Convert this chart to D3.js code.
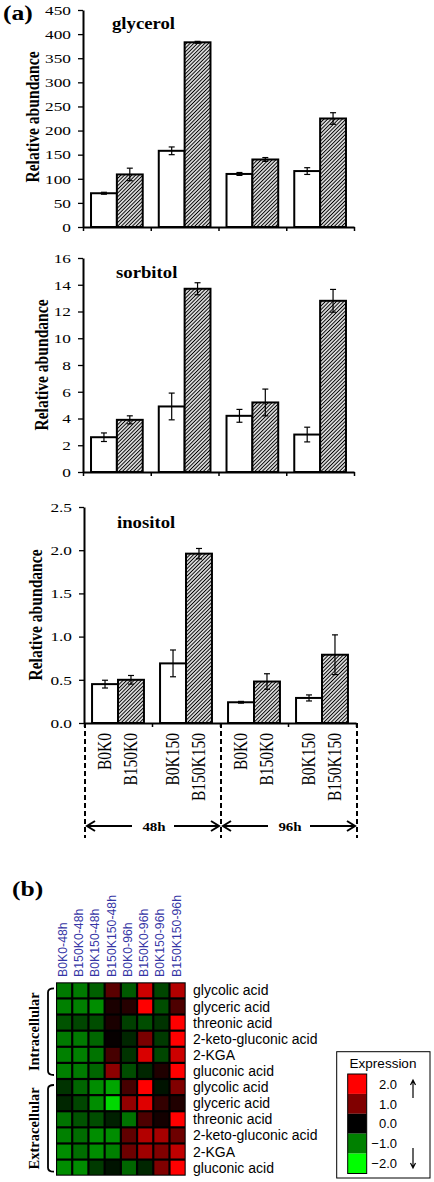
<!DOCTYPE html>
<html><head><meta charset="utf-8">
<script src="https://cdn.jsdelivr.net/npm/d3@7"></script>
<style>body{margin:0;background:#fff}</style>
</head><body>
<script>
// ---------------- DATA ----------------
const groups = ["48h K0", "48h K150", "96h K0", "96h K150"];
const series = ["B0", "B150"];
const categoryLabels = ["B0K0", "B150K0", "B0K150", "B150K150", "B0K0", "B150K0", "B0K150", "B150K150"];
const timeLabels = ["48h", "96h"];

const glycerolB0 = [70, 158, 110, 116];
const glycerolB0Err = [2, 8, 3, 7];
const glycerolB150 = [109, 383, 140, 225];
const glycerolB150Err = [13, 2, 4, 12];
const glycerolTicks = [0, 50, 100, 150, 200, 250, 300, 350, 400, 450];

const sorbitolB0 = [2.6, 4.9, 4.2, 2.8];
const sorbitolB0Err = [0.32, 1.0, 0.48, 0.55];
const sorbitolB150 = [3.9, 13.7, 5.2, 12.8];
const sorbitolB150Err = [0.3, 0.45, 1.0, 0.85];
const sorbitolTicks = [0, 2, 4, 6, 8, 10, 12, 14, 16];

const inositolB0 = [0.45, 0.69, 0.24, 0.29];
const inositolB0Err = [0.045, 0.155, 0.01, 0.035];
const inositolB150 = [0.50, 1.96, 0.48, 0.79];
const inositolB150Err = [0.05, 0.06, 0.09, 0.23];
const inositolTicks = [0, 0.5, 1.0, 1.5, 2.0, 2.5];

const heatmapColumns = ["B0K0-48h", "B150K0-48h", "B0K150-48h", "B150K150-48h", "B0K0-96h", "B150K0-96h", "B0K150-96h", "B150K150-96h"];
const heatmapRows = ["glycolic acid", "glyceric acid", "threonic acid", "2-keto-gluconic acid", "2-KGA", "gluconic acid",
                     "glycolic acid", "glyceric acid", "threonic acid", "2-keto-gluconic acid", "2-KGA", "gluconic acid"];
const heatmapGroups = ["Intracellular", "Extracellular"];
const heatmapValues = [
  [-0.95, -0.95, -0.75, 0.7, -0.7, 1.6, -0.55, 1.4],
  [-1.0, -1.0, -1.1, 0.2, 0.3, 2.0, -0.6, 0.6],
  [-0.65, -0.55, -0.6, 0.2, -0.5, -0.6, -0.4, 2.0],
  [-0.95, -0.95, -0.8, 0.05, -0.3, 0.95, -0.45, 2.0],
  [-1.0, -1.0, -0.9, 0.55, -0.4, 1.7, -0.55, 1.6],
  [-1.0, -0.95, -0.8, 1.1, -0.6, -0.3, 0.25, 2.0],
  [-0.4, -0.8, -1.1, -1.3, 0.55, 2.0, -0.15, 1.0],
  [-0.3, -0.55, -1.1, -1.7, 1.15, 1.75, 0.4, 0.25],
  [-0.9, -0.65, -0.6, -0.25, -0.9, 0.6, 0.15, 2.0],
  [-1.0, -0.85, -1.1, -1.1, 0.75, 1.4, 1.3, 0.85],
  [-1.1, -0.85, -1.1, -1.0, 0.85, 1.25, 1.0, 1.5],
  [-1.1, -1.1, -0.45, -0.15, -0.8, -0.3, 1.0, 2.0]
];
const legendValues = [2.0, 1.0, 0.0, -1.0, -2.0];
const legendColors = ["#00ff00", "#008000", "#000000", "#800000", "#ff0000"];

// ---------------- DRAW ----------------
const SERIF = "'Liberation Serif','Times New Roman',serif";
const SANS = "'Liberation Sans',Arial,sans-serif";

const svg = d3.select("body").append("svg").attr("width", 434).attr("height", 1182);
const defs = svg.append("defs");
const pat = defs.append("pattern").attr("id", "hatch").attr("patternUnits", "userSpaceOnUse")
  .attr("width", 2.6).attr("height", 2.6).attr("patternTransform", "rotate(45)");
pat.append("rect").attr("width", 2.6).attr("height", 2.6).attr("fill", "#fff");
pat.append("line").attr("x1", 1.3).attr("x2", 1.3).attr("y1", -1).attr("y2", 4).attr("stroke", "#000").attr("stroke-width", 1.15);

function stext(parent, x, y, str, o) {
  o = o || {};
  const g = parent.append("g").attr("transform", `translate(${x},${y}) scale(${o.sx || 1},1)` + (o.rot ? " rotate(-90)" : ""));
  return g.append("text").text(str)
    .attr("font-family", o.family || SERIF)
    .attr("font-size", o.size || 14)
    .attr("font-weight", o.bold ? "bold" : "normal")
    .attr("text-anchor", o.anchor || "start")
    .attr("dy", o.dy || 0)
    .attr("fill", o.fill || "#000");
}

stext(svg, 3, 19.5, "(a)", {size: 21, bold: true, sx: 1.22});

const panels = [
  {title: "glycerol", b0: glycerolB0, b0e: glycerolB0Err, b150: glycerolB150, b150e: glycerolB150Err, ticks: glycerolTicks, fmt: d3.format("d"),
   left: 83, right: 354, top: 10, bottom: 227, titleX: 112, titleY: 29, labX: 33, labY: 117},
  {title: "sorbitol", b0: sorbitolB0, b0e: sorbitolB0Err, b150: sorbitolB150, b150e: sorbitolB150Err, ticks: sorbitolTicks, fmt: d3.format("d"),
   left: 83, right: 354, top: 258, bottom: 472, titleX: 116, titleY: 278, labX: 42, labY: 365},
  {title: "inositol", b0: inositolB0, b0e: inositolB0Err, b150: inositolB150, b150e: inositolB150Err, ticks: inositolTicks, fmt: d3.format(".1f"),
   left: 84, right: 356, top: 507, bottom: 723, titleX: 117, titleY: 528, labX: 36, labY: 615}
];

panels.forEach((p, pi) => {
  const g = svg.append("g");
  const y = d3.scaleLinear().domain([p.ticks[0], p.ticks[p.ticks.length - 1]]).range([p.bottom, p.top]);
  const xb = d3.scaleBand().domain(groups).range([p.left, p.right]);
  const xs = d3.scaleBand().domain(series).range([0, xb.bandwidth()]).paddingOuter(0.31).paddingInner(0);
  const xt = d3.scaleLinear().domain([0, groups.length]).range([p.left, p.right]);

  const data = [];
  groups.forEach((gr, i) => {
    data.push({g: gr, s: "B0", v: p.b0[i], e: p.b0e[i]});
    data.push({g: gr, s: "B150", v: p.b150[i], e: p.b150e[i]});
  });
  g.selectAll("rect.bar").data(data).join("rect").attr("class", "bar")
    .attr("x", d => xb(d.g) + xs(d.s))
    .attr("y", d => y(d.v))
    .attr("width", xs.bandwidth())
    .attr("height", d => y(0) - y(d.v))
    .attr("fill", d => d.s === "B0" ? "#fff" : "url(#hatch)")
    .attr("stroke", "#000").attr("stroke-width", 2);

  const eb = g.selectAll("g.err").data(data).join("g").attr("class", "err")
    .attr("transform", d => `translate(${xb(d.g) + xs(d.s) + xs.bandwidth() / 2},0)`);
  eb.append("line").attr("y1", d => y(d.v - d.e)).attr("y2", d => y(d.v + d.e)).attr("stroke", "#000").attr("stroke-width", 1.2);
  eb.append("line").attr("x1", -3).attr("x2", 3).attr("y1", d => y(d.v + d.e)).attr("y2", d => y(d.v + d.e)).attr("stroke", "#000").attr("stroke-width", 1.2);
  eb.append("line").attr("x1", -3).attr("x2", 3).attr("y1", d => y(d.v - d.e)).attr("y2", d => y(d.v - d.e)).attr("stroke", "#000").attr("stroke-width", 1.2);

  const ya = g.append("g").attr("transform", `translate(${p.left},0)`)
    .call(d3.axisLeft(y).tickValues(p.ticks).tickFormat(p.fmt).tickSize(5).tickPadding(7).tickSizeOuter(0));
  ya.select(".domain").attr("stroke-width", 2);
  ya.selectAll(".tick line").attr("stroke-width", 1.3);
  ya.selectAll(".tick text").attr("font-family", SERIF).attr("font-size", 13.5).attr("fill", "#000")
    .attr("x", -12 / 1.28).attr("transform", "scale(1.28,1)");

  const xa = g.append("g").attr("transform", `translate(0,${p.bottom})`)
    .call(d3.axisBottom(xt).tickValues(d3.range(groups.length + 1)).tickFormat("").tickSize(4).tickSizeOuter(0));
  xa.select(".domain").attr("stroke-width", 2.2);
  xa.selectAll(".tick line").attr("stroke-width", 1.5);

  stext(g, p.titleX, p.titleY, p.title, {size: 16, bold: true, sx: 1.17});
  stext(g, p.labX, p.labY, "Relative abundance", {size: 15.6, bold: true, sx: 1.2, rot: true, anchor: "middle", dy: "0.34em"});

  if (pi === 2) {
    data.forEach((d, i) => {
      stext(g, xb(d.g) + xs(d.s) + xs.bandwidth() / 2, 733, categoryLabels[i], {size: 15.5, sx: 1.2, rot: true, anchor: "end", dy: "0.33em"});
    });
    [0, 2, 4].forEach(k => {
      g.append("line").attr("x1", xt(k) + 1).attr("x2", xt(k) + 1).attr("y1", p.bottom).attr("y2", 838)
        .attr("stroke", "#000").attr("stroke-width", 2).attr("stroke-dasharray", "5,3");
    });
    timeLabels.forEach((t, k) => {
      const a = xt(2 * k) + 1, b = xt(2 * k + 2) + 1, c = (a + b) / 2 + 1, yy = 826;
      stext(g, c, yy, t, {size: 13, bold: true, sx: 1.15, anchor: "middle", dy: "0.35em"});
      g.append("line").attr("x1", a + 2).attr("x2", c - 22).attr("y1", yy).attr("y2", yy).attr("stroke", "#000").attr("stroke-width", 2);
      g.append("line").attr("x1", c + 20).attr("x2", b - 2).attr("y1", yy).attr("y2", yy).attr("stroke", "#000").attr("stroke-width", 2);
      g.append("path").attr("d", `M${a + 10},${yy - 5}L${a + 2},${yy}L${a + 10},${yy + 5}`).attr("fill", "none").attr("stroke", "#000").attr("stroke-width", 2);
      g.append("path").attr("d", `M${b - 10},${yy - 5}L${b - 2},${yy}L${b - 10},${yy + 5}`).attr("fill", "none").attr("stroke", "#000").attr("stroke-width", 2);
    });
  }
});

// ---------------- HEATMAP ----------------
stext(svg, 12, 896, "(b)", {size: 21, bold: true, sx: 1.22});
const color = d3.scaleLinear().domain([-2, -1, 0, 1, 2]).range(legendColors);
const hx = d3.scaleBand().domain(heatmapColumns).range([56, 185.7]);
const hy = d3.scaleBand().domain(d3.range(heatmapRows.length)).range([982.3, 1175.7]);
const hm = svg.append("g");
hm.append("rect").attr("x", 56).attr("y", 982.3).attr("width", 129.7).attr("height", 193.4).attr("fill", "#000");
heatmapValues.forEach((row, i) => {
  hm.selectAll(null).data(row).join("rect")
    .attr("x", (d, j) => hx(heatmapColumns[j]) + 1.1)
    .attr("y", hy(i) + 1.1)
    .attr("width", hx.bandwidth() - 2.2)
    .attr("height", hy.bandwidth() - 2.2)
    .attr("fill", d => color(d));
});
heatmapRows.forEach((r, i) => {
  stext(hm, 193, hy(i) + hy.bandwidth() / 2, r, {family: SANS, size: 14, dy: "0.36em"});
});
heatmapColumns.forEach(c => {
  stext(hm, hx(c) + hx.bandwidth() / 2 - 1.5, 977, c, {family: SANS, size: 12.3, rot: true, dy: "0.36em", fill: "#3535a5"});
});
heatmapGroups.forEach((gname, k) => {
  const t = hy(6 * k), b = hy(6 * k + 5) + hy.bandwidth();
  const top = t + 6, bot = b - 4;
  hm.append("path").attr("d", `M54,${top}Q48,${top} 48,${top + 4}V${bot - 4}Q48,${bot} 54,${bot}`)
    .attr("fill", "none").attr("stroke", "#000").attr("stroke-width", 1.8);
  stext(hm, 34, (t + b) / 2 + 1, gname, {size: 14.5, bold: true, rot: true, anchor: "middle", dy: "0.33em"});
});

// legend
const lg = svg.append("g");
lg.append("rect").attr("x", 336.7).attr("y", 1051.7).attr("width", 93.3).attr("height", 126.3).attr("fill", "#fff").attr("stroke", "#000").attr("stroke-width", 1);
stext(lg, 383, 1063, "Expression", {family: SANS, size: 13.5, anchor: "middle", dy: "0.36em"});
const ly = d3.scaleBand().domain(legendValues).range([1074, 1173.5]);
lg.selectAll("rect.sw").data(legendValues).join("rect").attr("class", "sw")
  .attr("x", 347.7).attr("y", d => ly(d)).attr("width", 19).attr("height", ly.bandwidth()).attr("fill", d => color(d));
lg.append("rect").attr("x", 347.7).attr("y", 1074).attr("width", 19).attr("height", 99.5).attr("fill", "none").attr("stroke", "#000").attr("stroke-width", 1);
legendValues.forEach(v => {
  stext(lg, 397, ly(v) + ly.bandwidth() / 2, d3.format(".1f")(v), {family: SANS, size: 13, anchor: "end", dy: "0.36em"});
});
lg.append("path").attr("d", "M413,1098V1080M410.5,1085L413,1080L415.5,1085").attr("fill", "none").attr("stroke", "#000").attr("stroke-width", 1.2);
lg.append("path").attr("d", "M413,1148V1168M410.5,1163L413,1168L415.5,1163").attr("fill", "none").attr("stroke", "#000").attr("stroke-width", 1.2);
</script>
</body></html>
